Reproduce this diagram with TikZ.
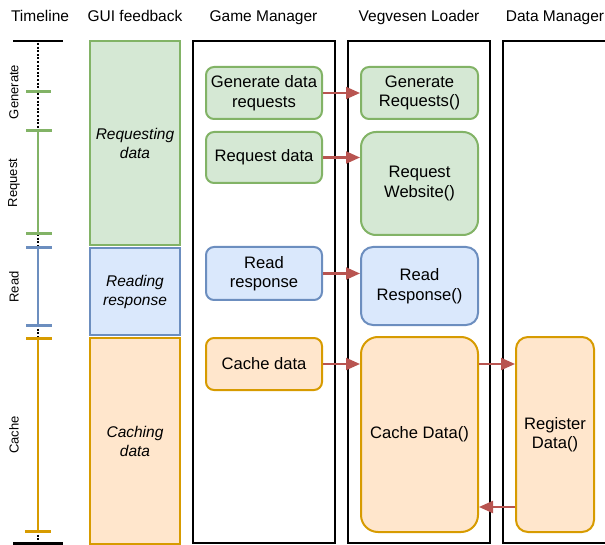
\documentclass[tikz,border=0pt]{standalone}
\usepackage{fontspec}
\setmainfont{Liberation Sans}
\usetikzlibrary{arrows.meta}

\definecolor{grnS}{HTML}{82B366}
\definecolor{grnF}{HTML}{D5E8D4}
\definecolor{bluS}{HTML}{6C8EBF}
\definecolor{bluF}{HTML}{DAE8FC}
\definecolor{orgS}{HTML}{D79B00}
\definecolor{orgF}{HTML}{FFE6CC}
\definecolor{redS}{HTML}{B85450}

\begin{document}
\begin{tikzpicture}[x=1pt,y=-1pt,
  head/.style={anchor=base,font=\fontsize{15.5}{18}\selectfont},
  lane/.style={draw=black,line width=2.5pt},
  gui/.style={line width=2pt},
  proc/.style={rounded corners=#1,line width=2pt,align=center,inner sep=0pt,
               font=\fontsize{16.6}{19.5}\selectfont},
  proc/.default=8pt,
  gproc/.style={proc=#1,draw=grnS,fill=grnF},
  bproc/.style={proc=#1,draw=bluS,fill=bluF},
  oproc/.style={proc=#1,draw=orgS,fill=orgF},
  gproc/.default=8pt, bproc/.default=8pt, oproc/.default=8pt,
  guitext/.style={align=center,font=\fontsize{15.5}{19}\selectfont\itshape},
  phase/.style={rotate=90,font=\fontsize{13}{15}\selectfont},
  tick/.style={line width=3pt},
  axis/.style={line width=2pt},
  gap/.style={black,line width=2pt,dash pattern=on 2pt off 1.6pt},
  flow/.style={draw=redS,line width=2.2pt,-{Triangle[length=14pt,width=12pt]}}
]
\useasboundingbox (0,0) rectangle (605,545);

% column headings
\node[head] (hTime) at (40,22) {Timeline};
\node[head] (hGui)  at (135,22) {GUI feedback};
\node[head] (hGame) at (263.5,22) {Game Manager};
\node[head] (hVeg)  at (419,22) {Vegvesen Loader};
\node[head] (hData) at (555,22) {Data Manager};

% swimlanes
\draw[lane] (193,41) rectangle (335,543);
\draw[lane] (348,41) rectangle (490,543);
\draw[lane] (503,41) rectangle (660,543);

% timeline
\draw[line width=2.5pt] (13,41) -- (63,41);
\draw[line width=2.5pt] (13,543.5) -- (63,543.5);
\draw[gap] (38,43) -- (38,131);
\draw[gap] (38,234) -- (38,248);
\draw[gap] (38,325) -- (38,338);
\draw[gap] (38,531) -- (38,543);
\draw[axis,grnS] (38,131) -- (38,234);
\draw[axis,bluS] (38,248) -- (38,325);
\draw[axis,orgS] (38,338) -- (38,531);
\draw[tick,grnS] (26,92) -- (51,92);
\draw[tick,grnS] (26,131) -- (52,131);
\draw[tick,grnS] (26,234) -- (52,234);
\draw[tick,bluS] (26,248) -- (52,248);
\draw[tick,bluS] (26,325) -- (52,325);
\draw[tick,orgS] (26,338) -- (52,338);
\draw[tick,orgS] (25,531) -- (51,531);
\node[phase] (pGen) at (14,92)  {Generate};
\node[phase] (pReq) at (14,183) {Request};
\node[phase] (pRead) at (14,287) {Read};
\node[phase] (pCache) at (14,435) {Cache};

% GUI feedback blocks
\draw[gui,draw=grnS,fill=grnF] (90,41) rectangle (180,245);
\draw[gui,draw=bluS,fill=bluF] (90,248) rectangle (180,335);
\draw[gui,draw=orgS,fill=orgF] (90,338) rectangle (180,544);
\node[guitext] (tReq)  at (135,143) {Requesting\\data};
\node[guitext] (tRead) at (135,292) {Reading\\response};
\node[guitext] (tCache) at (135,441) {Caching\\data};

% Game Manager steps
\node[gproc,minimum width=116pt,minimum height=52pt] (gm1) at (264,93) {Generate data\\requests};
\node[gproc,minimum width=116pt,minimum height=51pt] (gm2) at (264,157.5) {Request data};
\node[bproc,minimum width=116pt,minimum height=53pt] (gm3) at (264,273.5) {Read\\response};
\node[oproc,minimum width=116pt,minimum height=52pt] (gm4) at (264,364) {Cache data};

% Vegvesen Loader steps
\node[gproc,minimum width=117pt,minimum height=52pt] (vl1) at (419.5,93) {Generate\\Requests()};
\node[gproc=15pt,minimum width=117pt,minimum height=103pt] (vl2) at (419.5,183.5) {Request\\Website()};
\node[bproc=12pt,minimum width=117pt,minimum height=78pt] (vl3) at (419.5,286) {Read\\Response()};
\node[oproc=17pt,minimum width=117pt,minimum height=195pt] (vl4) at (419.5,434.5) {Cache Data()};

% Data Manager step
\node[oproc=12pt,minimum width=78pt,minimum height=195pt] (dm1) at (555,434.5) {Register\\Data()};

% calls between components
\draw[flow] (gm1.east) -- (gm1.east -| vl1.west);
\draw[flow] (gm2.east) -- (gm2.east -| vl2.west);
\draw[flow] (gm3.east) -- (gm3.east -| vl3.west);
\draw[flow] (gm4.east) -- (gm4.east -| vl4.west);
\draw[flow] (vl4.east |- gm4.east) -- (dm1.west |- gm4.east);
\draw[flow] ([yshift=-72.5pt]dm1.west) -- ([yshift=-72.5pt]dm1.west -| vl4.east);
\end{tikzpicture}
\end{document}
